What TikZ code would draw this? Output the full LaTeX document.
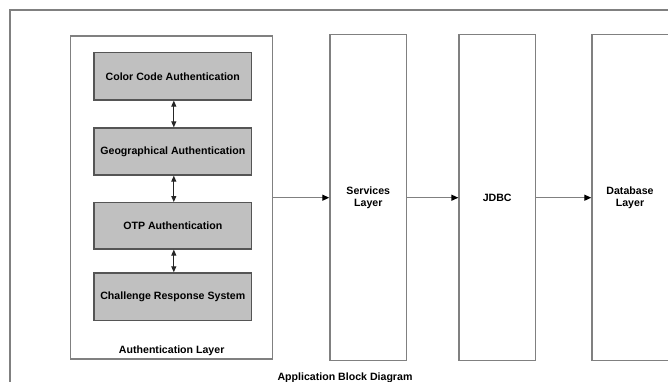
\documentclass[tikz,border=0pt]{standalone}
\usepackage{fontspec}
\setmainfont{Liberation Sans}
\usetikzlibrary{arrows.meta}
\definecolor{framegray}{RGB}{128,128,128}
\definecolor{boxgray}{RGB}{192,192,192}
\definecolor{edgegray}{RGB}{85,85,85}
\tikzset{
  lbl/.style={font=\fontsize{10.6}{12.5}\selectfont\bfseries, text=black, align=center},
  layerbox/.style={draw=framegray, line width=1.4pt, fill=white},
  authbox/.style={draw=edgegray, line width=1.3pt, fill=boxgray},
  biarrow/.style={draw=black!85, line width=1pt, {Triangle[length=6pt,width=5pt]}-{Triangle[length=6pt,width=5pt]}},
  flowarrow/.style={draw=framegray, line width=1.3pt, -{Triangle[length=7pt,width=6pt,color=black]}},
}
\begin{document}
\begin{tikzpicture}[x=1pt, y=-1pt]
\useasboundingbox (0,0) rectangle (668,381);
% outer frame
\draw[framegray, line width=1.4pt] (10,395) -- (10,10) -- (690,10);

% authentication layer and its methods
\draw[layerbox] (70.7,36) rectangle (272.7,359);
\node[lbl] (authlbl) at (171.7,350.5) {Authentication Layer};
\coordinate (authR) at (272.7,197.7);

\node[authbox, minimum width=157.7pt, minimum height=47.3pt] (cc) at (172.8,76.3) {};
\node[lbl] at (cc) {Color Code Authentication};
\node[authbox, minimum width=157.7pt, minimum height=47pt] (geo) at (172.8,151.5) {};
\node[lbl] at (geo) {Geographical Authentication};
\node[authbox, minimum width=157.7pt, minimum height=46.3pt] (otp) at (172.8,225.8) {};
\node[lbl] at (otp) {OTP Authentication};
\node[authbox, minimum width=157.7pt, minimum height=47.7pt] (crs) at (172.8,296.8) {};
\node[lbl] at (crs) {Challenge Response System};

\draw[biarrow] ([xshift=1pt]cc.south) -- ([xshift=1pt]geo.north);
\draw[biarrow] ([xshift=1pt]geo.south) -- ([xshift=1pt]otp.north);
\draw[biarrow] ([xshift=1pt]otp.south) -- ([xshift=1pt]crs.north);

% the layers to the right
\node[layerbox, minimum width=76.7pt, minimum height=326pt] (svc) at (368.3,197.7) {};
\node[lbl] at (svc) {Services\\Layer};
\node[layerbox, minimum width=76.3pt, minimum height=326pt] (jdbc) at (497.2,197.7) {};
\node[lbl] at (jdbc) {JDBC};
\node[layerbox, minimum width=78pt, minimum height=326pt] (db) at (631,197.7) {};
\node[lbl] at (630,197.7) {Database\\Layer};

\draw[flowarrow] (authR) -- (svc.west);
\draw[flowarrow] (svc.east) -- (jdbc.west);
\draw[flowarrow] (jdbc.east) -- (db.west);

\node[lbl] (title) at (345,377.5) {Application Block Diagram};
\end{tikzpicture}
\end{document}
